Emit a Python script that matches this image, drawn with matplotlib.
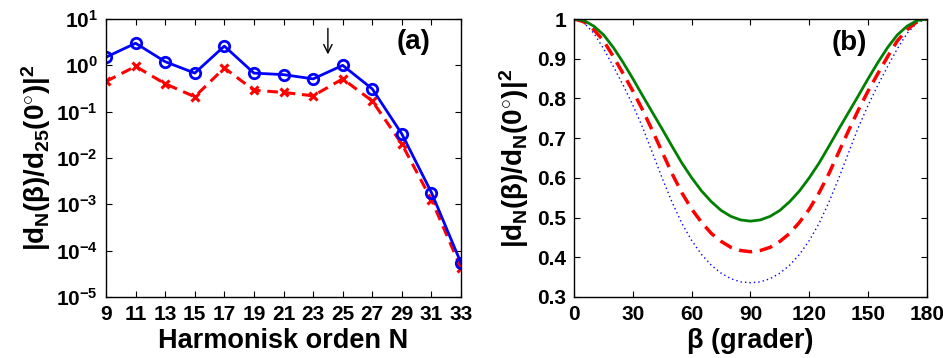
import numpy as np
import matplotlib
matplotlib.use("Agg")
import matplotlib.pyplot as plt

plt.rcParams['font.family'] = ['Liberation Sans', 'DejaVu Sans']
plt.rcParams['font.weight'] = 'bold'
plt.rcParams['mathtext.fontset'] = 'custom'
plt.rcParams['mathtext.rm'] = 'Liberation Sans:bold'
plt.rcParams['mathtext.it'] = 'Liberation Sans:bold'
plt.rcParams['mathtext.bf'] = 'Liberation Sans:bold'

# panel (a): harmonic order vs normalised dipole
N = [9, 11, 13, 15, 17, 19, 21, 23, 25, 27, 29, 31, 33]
d_blue = [1.5, 3.0, 1.2, 0.68, 2.6, 0.68, 0.63, 0.51, 1.0, 0.31, 0.033, 0.0018, 5.4e-5]
d_red = [0.45, 0.95, 0.40, 0.21, 0.88, 0.29, 0.26, 0.22, 0.51, 0.17, 0.020, 0.00125, 4.2e-5]

# panel (b): angle dependence
beta = list(range(0, 185, 5))
g_green = [1.000, 0.996, 0.982, 0.960, 0.928, 0.890, 0.849, 0.806, 0.764, 0.722,
           0.679, 0.637, 0.600, 0.567, 0.540, 0.518, 0.503, 0.494, 0.491,
           0.494, 0.503, 0.518, 0.540, 0.567, 0.600, 0.637, 0.679, 0.722,
           0.764, 0.806, 0.849, 0.890, 0.928, 0.960, 0.982, 0.996, 1.000]
g_red = [1.000, 0.993, 0.973, 0.945, 0.905, 0.862, 0.818, 0.770, 0.718, 0.664,
         0.610, 0.562, 0.521, 0.488, 0.460, 0.440, 0.425, 0.417, 0.414,
         0.417, 0.425, 0.440, 0.460, 0.488, 0.521, 0.562, 0.610, 0.664,
         0.718, 0.770, 0.818, 0.862, 0.905, 0.945, 0.973, 0.993, 1.000]
g_blue = [1.000, 0.990, 0.964, 0.925, 0.880, 0.833, 0.782, 0.726, 0.662, 0.598,
          0.538, 0.485, 0.442, 0.407, 0.380, 0.360, 0.346, 0.338, 0.336,
          0.338, 0.346, 0.360, 0.380, 0.407, 0.442, 0.485, 0.538, 0.598,
          0.662, 0.726, 0.782, 0.833, 0.880, 0.925, 0.964, 0.990, 1.000]

fig = plt.figure(figsize=(9.43, 3.58), dpi=100)
ax1 = fig.add_axes([0.1124, 0.1704, 0.3765, 0.7765])
ax2 = fig.add_axes([0.609, 0.1704, 0.3737, 0.7765])

ax1.plot(N, d_red, color='red', lw=2.2, ls=(0, (3.5, 2.2)), marker='x',
         ms=5.5, mew=2.2)
ax1.plot(N, d_blue, color='blue', lw=2, marker='o', ms=7.5,
         mfc='none', mew=2)
ax1.set_yscale('log')
ax1.set_xlim(9, 33)
ax1.set_ylim(1e-5, 1e1)
ax1.set_xticks(N)
ax1.set_yticks([1e-5, 1e-4, 1e-3, 1e-2, 1e-1, 1e0, 1e1])
ax1.annotate('', xy=(24, 1.5), xytext=(24, 7.2),
             arrowprops=dict(arrowstyle='->', color='black', lw=1,
                             mutation_scale=15))
ax1.text(0.865, 0.917, '(a)', transform=ax1.transAxes, ha='center', va='center',
         fontsize=20, fontweight='bold')
ax1.set_xlabel('Harmonisk orden N', fontsize=19.5, fontweight='bold', labelpad=3)
ax1.set_ylabel(r'$|d_N(\beta)/d_{25}(0^{\circ})|^2$', fontsize=20, labelpad=2)

ax2.plot(beta, g_blue, color='blue', lw=1, ls=(0, (1, 2.2)))
ax2.plot(beta, g_red, color='red', lw=2.5, ls=(0, (3.8, 2.2)))
ax2.plot(beta, g_green, color='green', lw=2)
ax2.set_xlim(0, 180)
ax2.set_ylim(0.3, 1)
ax2.set_xticks([0, 30, 60, 90, 120, 150, 180])
ax2.set_yticks([0.3, 0.4, 0.5, 0.6, 0.7, 0.8, 0.9, 1.0])
ax2.set_yticklabels(['0.3', '0.4', '0.5', '0.6', '0.7', '0.8', '0.9', '1'])
ax2.text(0.78, 0.912, '(b)', transform=ax2.transAxes, ha='center', va='center',
         fontsize=20, fontweight='bold')
ax2.set_xlabel('β (grader)', fontsize=19.5, fontweight='bold', labelpad=3)
ax2.set_ylabel(r'$|d_N(\beta)/d_N(0^{\circ})|^2$', fontsize=20, labelpad=4)

for ax in (ax1, ax2):
    ax.tick_params(which='both', direction='in', top=True, right=True,
                   labelsize=15, pad=6)
    ax.tick_params(which='major', length=4, width=0.8)
    ax.tick_params(which='minor', length=2, width=0.6)
    for s in ax.spines.values():
        s.set_linewidth(1)
    for lab in ax.get_xticklabels() + ax.get_yticklabels():
        lab.set_fontweight('bold')

fig.savefig('out.png', dpi=100)
